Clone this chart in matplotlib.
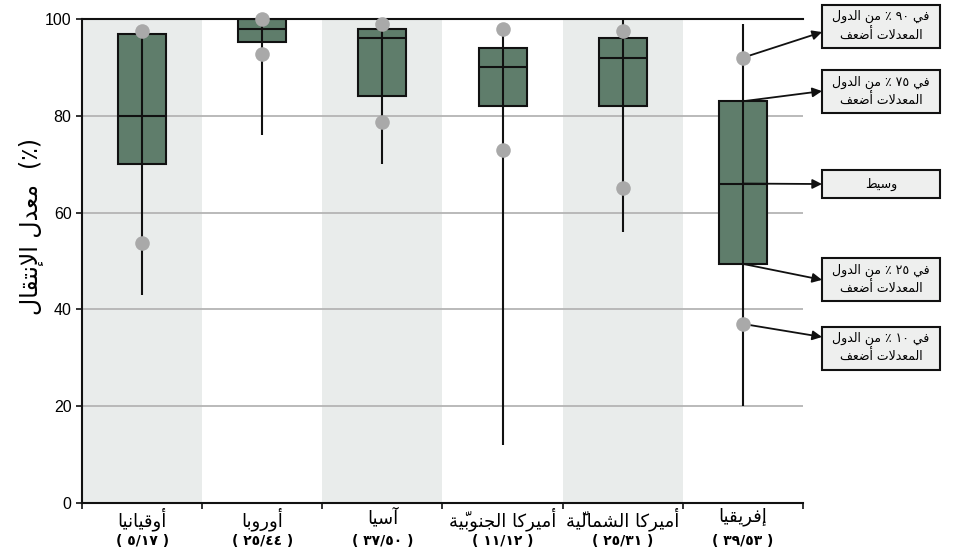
import matplotlib
matplotlib.use('Agg')
import matplotlib.pyplot as plt
import matplotlib.transforms as mtransforms
from matplotlib.patches import Rectangle

plt.rcParams['font.family'] = ['Liberation Sans', 'DejaVu Sans']

# Data
regions = ['أوقيانيا', 'أوروبا', 'آسيا', 'أميركا الجنوبيّة', 'أميركا الشماليّة', 'إفريقيا']
counts = ['( ٥/١٧ )', '( ٢٥/٤٤ )', '( ٣٧/٥٠ )', '( ١١/١٢ )', '( ٢٥/٣١ )', '( ٣٩/٥٣ )']
w_low = [43, 76, 70, 12, 56, 20]
w_high = [97.5, 100, 99, 98, 100, 99]
q1 = [70, 95.3, 84, 82, 82, 49.4]
med = [80, 98, 96, 90, 92, 66]
q3 = [97, 100, 98, 94, 96, 83]
p10 = [53.7, 92.7, 78.7, 72.9, 65, 37]
p90 = [97.5, 100, 99, 98, 97.5, 92]

# legend boxes (for Africa): text lines, box centre y, arrow target y
legend_text = [['في ٩٠ ٪ من الدول', 'المعدلات أضعف'],
               ['في ٧٥ ٪ من الدول', 'المعدلات أضعف'],
               ['وسيط'],
               ['في ٢٥ ٪ من الدول', 'المعدلات أضعف'],
               ['في ١٠ ٪ من الدول', 'المعدلات أضعف']]
legend_y = [98.5, 85.0, 65.9, 46.1, 32.0]
arrow_y = [97.3, 85.1, 65.9, 46.1, 34.3]
legend_src = [p90[5], q3[5], med[5], q1[5], p10[5]]

ylabel = 'معدل الإنتقال'

# ---- minimal Arabic shaping (matplotlib has no complex text layout) ----
DUAL = {'ب': 'ﺏﺐﺑﺒ', 'ت': 'ﺕﺖﺗﺘ', 'ج': 'ﺝﺞﺟﺠ', 'س': 'ﺱﺲﺳﺴ', 'ش': 'ﺵﺶﺷﺸ',
        'ض': 'ﺽﺾﺿﻀ', 'ط': 'ﻁﻂﻃﻄ', 'ع': 'ﻉﻊﻋﻌ', 'ف': 'ﻑﻒﻓﻔ', 'ق': 'ﻕﻖﻗﻘ',
        'ك': 'ﻙﻚﻛﻜ', 'ل': 'ﻝﻞﻟﻠ', 'م': 'ﻡﻢﻣﻤ', 'ن': 'ﻥﻦﻧﻨ', 'ي': 'ﻱﻲﻳﻴ'}
RIGHT = {'ا': 'ﺍﺎ', 'أ': 'ﺃﺄ', 'إ': 'ﺇﺈ', 'آ': 'ﺁﺂ', 'ة': 'ﺓﺔ', 'د': 'ﺩﺪ',
         'ر': 'ﺭﺮ', 'و': 'ﻭﻮ'}
LAM_ALEF = {'ا': 'ﻻﻼ', 'أ': 'ﻷﻸ', 'إ': 'ﻹﻺ', 'آ': 'ﻵﻶ'}
MARKS = '\u0651'


def shape_word(word):
    cl = []
    for ch in word:
        if ch in MARKS and cl:
            cl[-1][1] += ch
        else:
            cl.append([ch, ''])
    merged = []
    i = 0
    while i < len(cl):
        b, m = cl[i]
        if b == 'ل' and i + 1 < len(cl) and cl[i + 1][0] in LAM_ALEF:
            merged.append([LAM_ALEF[cl[i + 1][0]], m + cl[i + 1][1]])
            i += 2
        else:
            merged.append([b, m])
            i += 1

    def joins(b):
        return b in DUAL or b in RIGHT or len(b) == 2

    out = []
    for i, (b, m) in enumerate(merged):
        if not joins(b):
            out.append(b + m)
            continue
        prev = merged[i - 1][0] if i > 0 else None
        nxt = merged[i + 1][0] if i + 1 < len(merged) else None
        jp = prev is not None and prev in DUAL
        jn = b in DUAL and nxt is not None and joins(nxt)
        forms = DUAL.get(b) or RIGHT.get(b) or b
        if b in DUAL:
            g = forms[3] if (jp and jn) else forms[1] if jp else forms[2] if jn else forms[0]
        else:
            g = forms[1] if jp else forms[0]
        out.append(g + m)
    return ''.join(reversed(out))


def ar(text):
    words = []
    for w in text.split(' '):
        if any(c in DUAL or c in RIGHT for c in w):
            words.append(shape_word(w))
        else:
            words.append(w)
    return ' '.join(reversed(words))


fig = plt.figure(figsize=(9.59, 5.52), dpi=100)
ax = fig.add_axes([0.0855, 0.0888, 0.7518, 0.8768])

x = list(range(len(regions)))
box_col = '#5f7d6b'
shade = '#e9eceb'

for i in x:
    if i % 2 == 0 and i < 5:
        ax.axvspan(i - 0.5, i + 0.5, color=shade, lw=0, zorder=0)

for g in [20, 40, 60, 80]:
    ax.axhline(g, color='#b4b4b4', lw=1.3, zorder=1)

heights = [b - a for a, b in zip(q1, q3)]
ax.bar(x, heights, bottom=q1, width=0.4, color=box_col, edgecolor='#111111', lw=1.5, zorder=2)
ax.hlines(med, [i - 0.2 for i in x], [i + 0.2 for i in x], color='#111111', lw=1.5, zorder=3)
ax.vlines(x, w_low, w_high, color='#111111', lw=1.5, zorder=4)
ax.scatter(x, p90, s=110, color='#a9a9a9', zorder=5, clip_on=False, lw=0)
ax.scatter(x, p10, s=110, color='#a9a9a9', zorder=5, clip_on=False, lw=0)

ax.set_xlim(-0.5, 5.5)
ax.set_ylim(0, 100)
ax.set_yticks([0, 20, 40, 60, 80, 100])
ax.tick_params(axis='y', labelsize=11.5, length=4, width=1.2, color='#111111')
ax.set_xticks([i + 0.5 for i in range(-1, 6)])
ax.set_xticklabels([])
ax.tick_params(axis='x', length=4, width=1.2, color='#111111')
for s in ['left', 'bottom', 'top']:
    ax.spines[s].set_color('#111111')
    ax.spines[s].set_linewidth(1.5)
ax.spines['right'].set_visible(False)

trans = mtransforms.blended_transform_factory(ax.transData, ax.transAxes)
for i, name in enumerate(regions):
    ax.text(i, -0.01, ar(name), transform=trans, ha='center', va='top',
            fontsize=13, family='DejaVu Sans')
    ax.text(i, -0.064, counts[i], transform=trans, ha='center', va='top',
            fontsize=10, fontweight='bold', family='DejaVu Sans')

fig.text(0.032, 0.59, ar(ylabel) + '  (٪)', rotation=90, ha='center', va='center',
         fontsize=17, family='DejaVu Sans')

# legend boxes with arrows pointing from the Africa box
bx0, bw = 1.0264, 0.1637
for lines, ly, ay, src in zip(legend_text, legend_y, arrow_y, legend_src):
    txt = '\n'.join(ar(t) for t in lines)
    yc = ax.transLimits.transform((0, ly))[1]
    bh = 0.0888 if len(lines) > 1 else 0.058
    ax.add_patch(Rectangle((bx0, yc - bh / 2), bw, bh, transform=ax.transAxes,
                           fc='#eeefee', ec='#111111', lw=1.5, clip_on=False, zorder=6))
    ax.text(bx0 + bw / 2, yc, txt, transform=ax.transAxes, ha='center', va='center',
            fontsize=9, family='DejaVu Sans', linespacing=1.45, zorder=7)
    ax.annotate('', xy=(bx0, ax.transLimits.transform((0, ay))[1]), xycoords='axes fraction',
                xytext=(5, src), textcoords='data',
                arrowprops=dict(arrowstyle='-|>', color='#111111', lw=1.3, mutation_scale=14,
                                shrinkA=0, shrinkB=0))

fig.savefig('out.png', dpi=100)
